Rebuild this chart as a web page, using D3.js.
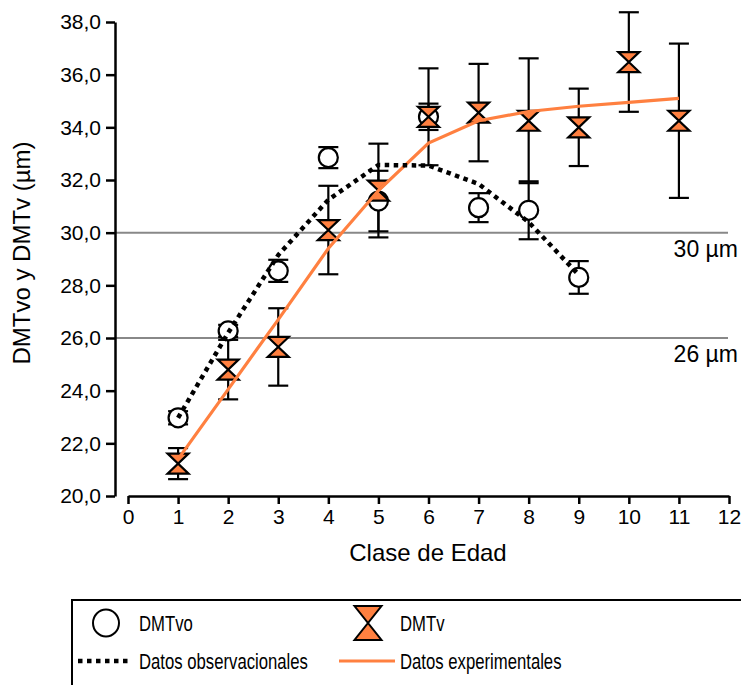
<!DOCTYPE html>
<html>
<head>
<meta charset="utf-8">
<script src="https://cdn.jsdelivr.net/npm/d3@7"></script>
<style>
  html, body { margin: 0; padding: 0; background: #fff; }
  svg { display: block; }
  text { font-family: Arial, "Liberation Sans", sans-serif; fill: #000; }
</style>
</head>
<body>
<svg id="chart" width="741" height="685"></svg>
<script>
// Age classes (x) and measured fibre diameters (µm)
const clasesObs = [1, 2, 3, 4, 5, 6, 7, 8, 9];
const dmtvo     = [22.97, 26.27, 28.55, 32.85, 31.2, 34.4, 30.95, 30.85, 28.3];
const dmtvoErr  = [0.25, 0.23, 0.42, 0.4, 1.15, 0.5, 0.55, 1.1, 0.62];

const clasesExp = [1, 2, 3, 4, 5, 6, 7, 8, 9, 10, 11];
const dmtv      = [21.23, 24.8, 25.66, 30.1, 31.6, 34.4, 34.56, 34.25, 34.0, 36.48, 34.25];
const dmtvErr   = [0.59, 1.13, 1.47, 1.68, 1.78, 1.84, 1.85, 2.37, 1.47, 1.89, 2.93];

// Fitted trend lines
const lineaObs  = [22.97, 26.2, 29.15, 31.25, 32.57, 32.55, 31.85, 30.4, 28.4];
const lineaExp  = [21.4, 24.05, 26.7, 29.4, 31.6, 33.4, 34.25, 34.6, 34.8, 34.95, 35.1];

// Reference thresholds
const umbrales = [30, 26];
const umbralLabels = ["30 µm", "26 µm"];

const yTicks = [20, 22, 24, 26, 28, 30, 32, 34, 36, 38];
const xTicks = [0, 1, 2, 3, 4, 5, 6, 7, 8, 9, 10, 11, 12];

const ORANGE = "#FF8040";

const svg = d3.select("#chart");

const x = d3.scaleLinear().domain([0, 12]).range([128, 729]);
const y = d3.scaleLinear().domain([20, 38]).range([496, 22]);
const yAxisX = 115;

// Horizontal threshold lines
svg.append("g").selectAll("line").data(umbrales).join("line")
  .attr("x1", yAxisX).attr("x2", 728)
  .attr("y1", d => y(d)).attr("y2", d => y(d))
  .attr("stroke", "#888").attr("stroke-width", 2);

svg.append("g").selectAll("text").data(umbrales).join("text")
  .attr("x", 738).attr("y", d => y(d) + 24)
  .attr("text-anchor", "end")
  .style("font-size", "23px")
  .text((d, i) => umbralLabels[i]);

// Axes
const fmt = d => d.toFixed(1).replace(".", ",");
const yAxis = svg.append("g")
  .attr("transform", `translate(${yAxisX},0)`)
  .call(d3.axisLeft(y).tickValues(yTicks).tickFormat(fmt).tickSize(9).tickSizeOuter(0).tickPadding(5));
const xAxis = svg.append("g")
  .attr("transform", `translate(0,${y(20)})`)
  .call(d3.axisBottom(x).tickValues(xTicks).tickFormat(d3.format("d")).tickSize(8).tickSizeOuter(0).tickPadding(5));

[yAxis, xAxis].forEach(g => {
  g.selectAll("path, line").attr("stroke", "#000").attr("stroke-width", 2.5);
  g.selectAll("text").style("font-size", "21px").attr("fill", "#000");
});

svg.append("text")
  .attr("x", 428).attr("y", 561)
  .attr("text-anchor", "middle")
  .style("font-size", "24px")
  .text("Clase de Edad");

svg.append("text")
  .attr("transform", `translate(30,253) rotate(-90)`)
  .attr("text-anchor", "middle")
  .style("font-size", "24px")
  .text("DMTvo y DMTv (µm)");

// Error bars
const capW = 20;
function errorBars(xs, vals, errs) {
  const g = svg.append("g").attr("stroke", "#000").attr("stroke-width", 2.2);
  const data = xs.map((c, i) => ({ c, v: vals[i], e: errs[i] }));
  g.selectAll("line.v").data(data).join("line").attr("class", "v")
    .attr("x1", d => x(d.c)).attr("x2", d => x(d.c))
    .attr("y1", d => y(d.v + d.e)).attr("y2", d => y(d.v - d.e));
  g.selectAll("line.t").data(data).join("line").attr("class", "t")
    .attr("x1", d => x(d.c) - capW / 2).attr("x2", d => x(d.c) + capW / 2)
    .attr("y1", d => y(d.v + d.e)).attr("y2", d => y(d.v + d.e));
  g.selectAll("line.b").data(data).join("line").attr("class", "b")
    .attr("x1", d => x(d.c) - capW / 2).attr("x2", d => x(d.c) + capW / 2)
    .attr("y1", d => y(d.v - d.e)).attr("y2", d => y(d.v - d.e));
}
errorBars(clasesObs, dmtvo, dmtvoErr);
errorBars(clasesExp, dmtv, dmtvErr);

// Hourglass marker path
function hourglass(w, h) {
  const a = w / 2, b = h / 2;
  return `M${-a},${-b}L${a},${-b}L${-a},${b}L${a},${b}Z`;
}

// Observed points: open circles
svg.append("g").selectAll("circle").data(clasesObs).join("circle")
  .attr("cx", d => x(d)).attr("cy", (d, i) => y(dmtvo[i]))
  .attr("r", 9.5)
  .attr("fill", "#fff").attr("stroke", "#000").attr("stroke-width", 2.2);

// Experimental points: orange hourglasses
svg.append("g").selectAll("path").data(clasesExp).join("path")
  .attr("transform", (d, i) => `translate(${x(d)},${y(dmtv[i])})`)
  .attr("d", hourglass(21, 20))
  .attr("fill", ORANGE).attr("stroke", "#000").attr("stroke-width", 2.2)
  .attr("stroke-linejoin", "miter");

// Trend lines
const line = d3.line().x(d => x(d[0])).y(d => y(d[1]));
svg.append("path")
  .datum(clasesExp.map((c, i) => [c, lineaExp[i]]))
  .attr("d", line)
  .attr("fill", "none").attr("stroke", ORANGE).attr("stroke-width", 3.2);
svg.append("path")
  .datum(clasesObs.map((c, i) => [c, lineaObs[i]]))
  .attr("d", line)
  .attr("fill", "none").attr("stroke", "#000").attr("stroke-width", 4.5)
  .attr("stroke-dasharray", "4.5,4.5");

// Legend
const lg = svg.append("g");
lg.append("rect")
  .attr("x", 72).attr("y", 600).attr("width", 700).attr("height", 120)
  .attr("fill", "none").attr("stroke", "#000").attr("stroke-width", 2);

lg.append("ellipse").attr("cx", 106).attr("cy", 623).attr("rx", 13).attr("ry", 13.5)
  .attr("fill", "#fff").attr("stroke", "#000").attr("stroke-width", 2);
lg.append("path").attr("transform", "translate(368,623)")
  .attr("d", hourglass(27, 34))
  .attr("fill", ORANGE).attr("stroke", "#000").attr("stroke-width", 2);
lg.append("line").attr("x1", 78).attr("x2", 132).attr("y1", 661).attr("y2", 661)
  .attr("stroke", "#000").attr("stroke-width", 4.5).attr("stroke-dasharray", "4.5,4.5");
lg.append("line").attr("x1", 339).attr("x2", 395).attr("y1", 661).attr("y2", 661)
  .attr("stroke", ORANGE).attr("stroke-width", 3.2);

// Condensed legend labels
const legendItems = [
  { t: "DMTvo", x: 139, y: 631 },
  { t: "DMTv", x: 400, y: 631 },
  { t: "Datos observacionales", x: 139, y: 669 },
  { t: "Datos experimentales", x: 400, y: 669 }
];
lg.selectAll("text.item").data(legendItems).join("text")
  .attr("class", "item")
  .attr("transform", d => `translate(${d.x},${d.y}) scale(0.76,1)`)
  .style("font-size", "22px")
  .text(d => d.t);
</script>
</body>
</html>
